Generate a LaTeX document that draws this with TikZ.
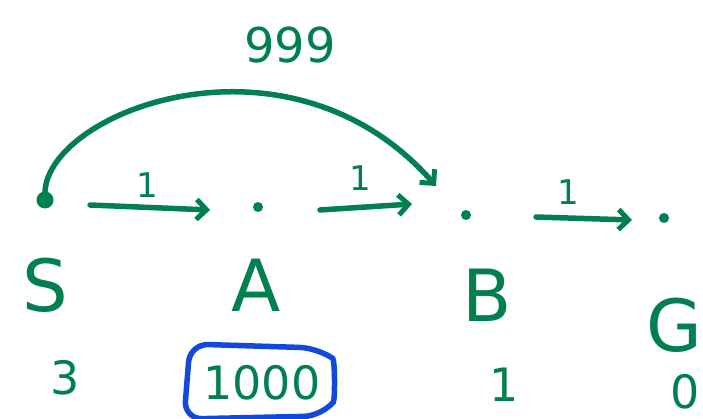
\documentclass[tikz,border=0pt]{standalone}
\usepackage{fontspec}
\setmainfont{DejaVu Sans}
\usetikzlibrary{arrows.meta}
\definecolor{ink}{RGB}{0,128,78}
\definecolor{boxblue}{RGB}{18,72,220}
\begin{document}
\begin{tikzpicture}[x=1pt,y=-1pt,
  ink line/.style={draw=ink,line width=5.5pt,line cap=round},
  edge/.style={ink line,-{Straight Barb[length=10pt,width=20pt,line width=5pt]}},
  vdot/.style={circle,fill=ink,inner sep=0pt,minimum size=10pt},
  bigletter/.style={text=ink,font=\fontsize{72}{72}\selectfont,inner sep=0pt},
  num/.style={text=ink,font=\fontsize{46}{46}\selectfont,inner sep=0pt},
  wlabel/.style={text=ink,font=\fontsize{34}{34}\selectfont,inner sep=0pt}]
\useasboundingbox (0,0) rectangle (703,419);
% vertices
\node[vdot,minimum size=17pt] (s) at (45,200) {};
\node[vdot] (a) at (258,207) {};
\node[vdot] (b) at (466,215) {};
\node[vdot] (g) at (664,218) {};
% vertex letters
\node[bigletter] (S) at (45,285) {S};
\node[bigletter] (A) at (256,285) {A};
\node[bigletter] (B) at (487,295) {B};
\node[bigletter,anchor=east] (G) at (702,325) {G};
% heuristic values
\node[num] (h3) at (65,378) {3};
\node[num] (h1000) at (262,383) {1000};
\node[num] (h1) at (504,385) {1};
\node[num,anchor=east] (h0) at (700,392) {0};
\draw[boxblue,line width=5.5pt,rounded corners=18pt]
  (190,344) -- (318,348) .. controls (335,360) and (335,400) .. (322,416) -- (184,419) -- cycle;
% edges of weight 1
\draw[edge] (s) ++(45,5) coordinate (e1s) -- (210,210) coordinate (e1e);
\node[wlabel] (w1) at (147,185) {1};
\draw[edge] (a) ++(62,3) coordinate (e2s) -- (412,204) coordinate (e2e);
\node[wlabel] (w2) at (360,178) {1};
\draw[edge] (b) ++(70,2) coordinate (e3s) -- (632,220) coordinate (e3e);
\node[wlabel] (w3) at (568,192) {1};
% long edge S -> B of weight 999
\coordinate (arcend) at (436,186);
\draw[edge] (s.north) .. controls (50,110) and (290,20) .. (arcend);
\node[text=ink,font=\fontsize{48}{48}\selectfont,inner sep=0pt] (w999) at (290,45) {999};
\end{tikzpicture}
\end{document}
